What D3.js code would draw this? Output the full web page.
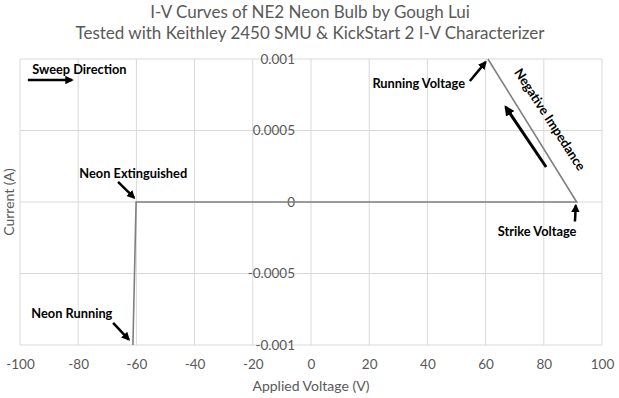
<!DOCTYPE html>
<html>
<head>
<meta charset="utf-8">
<script src="https://cdn.jsdelivr.net/npm/d3@7"></script>
<style>
  body { margin: 0; background: #fff; }
  text { font-family: Lato, "Open Sans", sans-serif; }
</style>
</head>
<body>
<div id="container"></div>
<script>
const width = 619;
const height = 398;

// Measured I-V sweep
const voltage = [-61.2, -60.1, 91.3, 60.8];
const current = [-0.001, 0, 0, 0.001];

const xTicks = [-100, -80, -60, -40, -20, 0, 20, 40, 60, 80, 100];
const yTicks = [-0.001, -0.0005, 0, 0.0005, 0.001];

// Annotation labels, placed in data units
const labelText = ["Sweep Direction", "Neon Extinguished", "Neon Running", "Running Voltage", "Strike Voltage"];
const labelX = [-95.8, -79.6, -96.1, 21.1, 77.7];
const labelY = [0.000895, 0.000168, -0.000811, 0.000797, -0.000238];
const labelAnchor = ["start", "start", "start", "start", "middle"];

// Arrows: [x1, y1, x2, y2], head at the second point
const arrows = [
  [-97.3, 0.000853, -82.1, 0.000853],
  [-66.3, 0.00014, -60.8, 0.00003],
  [-68.0, -0.000846, -62.6, -0.000962],
  [54.6, 0.000846, 60.0, 0.000978],
  [90.7, -0.000136, 91.0, -0.000024],
  [80.8, 0.000245, 66.9, 0.000664],
];

const svg = d3.select("#container")
  .append("svg")
  .attr("width", width)
  .attr("height", height);

const x = d3.scaleLinear().domain([-100, 100]).range([20, 602]);
const y = d3.scaleLinear().domain([-0.001, 0.001]).range([345, 59]);

svg.append("defs").append("marker")
  .attr("id", "head")
  .attr("viewBox", "0 0 10 10")
  .attr("refX", 8).attr("refY", 5)
  .attr("markerWidth", 3.4).attr("markerHeight", 3.4)
  .attr("orient", "auto")
  .append("path")
  .attr("d", "M0,0L10,5L0,10z")
  .attr("fill", "#000");

// title
svg.append("text")
  .attr("x", 310).attr("y", 18)
  .attr("text-anchor", "middle")
  .attr("font-size", 17).attr("fill", "#595959")
  .text("I-V Curves of NE2 Neon Bulb by Gough Lui");
svg.append("text")
  .attr("x", 310).attr("y", 39)
  .attr("text-anchor", "middle")
  .attr("font-size", 17).attr("fill", "#595959")
  .text("Tested with Keithley 2450 SMU & KickStart 2 I-V Characterizer");

// gridlines
svg.append("g")
  .selectAll("line")
  .data(xTicks)
  .join("line")
  .attr("x1", d => x(d)).attr("x2", d => x(d))
  .attr("y1", y(-0.001)).attr("y2", y(0.001))
  .attr("stroke", "#d9d9d9").attr("stroke-width", 1);

svg.append("g")
  .selectAll("line")
  .data(yTicks)
  .join("line")
  .attr("x1", x(-100)).attr("x2", x(100))
  .attr("y1", d => y(d)).attr("y2", d => y(d))
  .attr("stroke", "#d9d9d9").attr("stroke-width", 1);

// x axis labels
const xAxis = svg.append("g")
  .attr("transform", `translate(0,${y(-0.001)})`)
  .call(d3.axisBottom(x).tickValues(xTicks).tickSize(0).tickPadding(14).tickFormat(d => String(d)));
xAxis.select(".domain").remove();
xAxis.selectAll("text")
  .attr("font-size", 13.5).attr("fill", "#595959")
  .style("font-family", "Lato, sans-serif");

// y axis sits at x = 0
const yAxis = svg.append("g")
  .attr("transform", `translate(${x(0)},0)`)
  .call(d3.axisLeft(y).tickValues(yTicks).tickSize(0).tickPadding(16).tickFormat(d => String(d)));
yAxis.select(".domain").remove();
yAxis.selectAll("text")
  .attr("font-size", 13.5).attr("fill", "#595959")
  .style("font-family", "Lato, sans-serif");

// axis titles
svg.append("text")
  .attr("x", x(0)).attr("y", 391)
  .attr("text-anchor", "middle")
  .attr("font-size", 14).attr("fill", "#595959")
  .text("Applied Voltage (V)");
svg.append("text")
  .attr("transform", `translate(14,${y(0)}) rotate(-90)`)
  .attr("text-anchor", "middle")
  .attr("font-size", 14).attr("fill", "#595959")
  .text("Current (A)");

// series
const line = d3.line().x((d, i) => x(voltage[i])).y((d, i) => y(current[i]));
svg.append("path")
  .datum(voltage)
  .attr("d", line)
  .attr("fill", "none")
  .attr("stroke", "#7f7f7f")
  .attr("stroke-width", 1.6);

// annotations
svg.append("g")
  .selectAll("text")
  .data(labelText)
  .join("text")
  .attr("x", (d, i) => x(labelX[i]))
  .attr("y", (d, i) => y(labelY[i]))
  .attr("text-anchor", (d, i) => labelAnchor[i])
  .attr("font-size", 12.8).attr("font-weight", "bold").attr("fill", "#000")
  .text(d => d);

svg.append("text")
  .attr("transform", `translate(${x(80.8)},${y(0.00056)}) rotate(57)`)
  .attr("text-anchor", "middle")
  .attr("font-size", 13).attr("font-weight", "bold").attr("fill", "#000")
  .text("Negative Impedance");

svg.append("g")
  .selectAll("line")
  .data(arrows)
  .join("line")
  .attr("x1", d => x(d[0])).attr("y1", d => y(d[1]))
  .attr("x2", d => x(d[2])).attr("y2", d => y(d[3]))
  .attr("stroke", "#000")
  .attr("stroke-width", (d, i) => i === 5 ? 3 : 2.5)
  .attr("marker-end", "url(#head)");
</script>
</body>
</html>
